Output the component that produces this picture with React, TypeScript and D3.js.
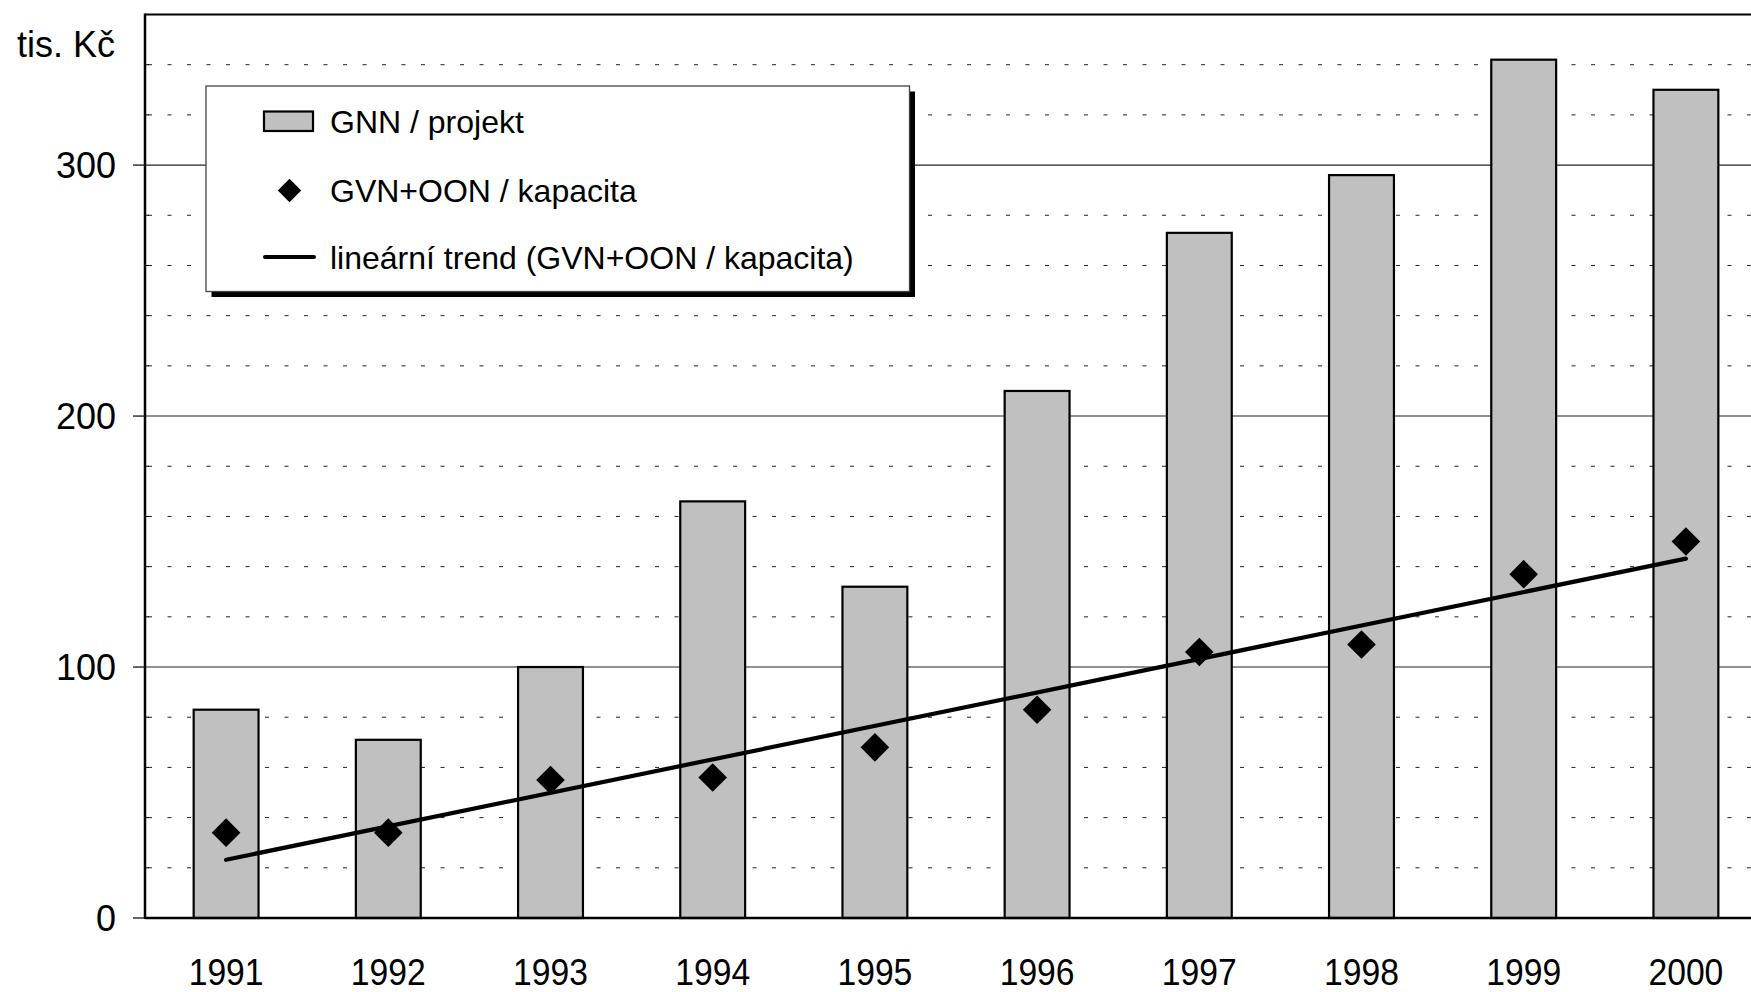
import React from "react";
import * as d3 from "d3";

const years = ["1991", "1992", "1993", "1994", "1995", "1996", "1997", "1998", "1999", "2000"];
const gnnProjekt = [83, 71, 100, 166, 132, 210, 273, 296, 342, 330];
const gvnKapacita = [34, 34, 55, 56, 68, 83, 106, 109, 137, 150];
const yMajorTicks = [0, 100, 200, 300];
const yMinorTicks = [20, 40, 60, 80, 120, 140, 160, 180, 220, 240, 260, 280, 320, 340];
const legendLabels = ["GNN / projekt", "GVN+OON / kapacita", "lineární trend (GVN+OON / kapacita)"];
const yUnitLabel = "tis. Kč";

const W = 1751;
const H = 992;
const FONT = "'Liberation Sans', Arial, Helvetica, sans-serif";

export default function App() {
  const plotLeft = 145;
  const plotTop = 14.5;
  const plotBottom = 918;
  const plotRight = 145 + 1622;

  const x = d3.scaleBand<string>().domain(years).range([plotLeft, plotRight]).paddingInner(0.6).paddingOuter(0.3);
  const y = d3.scaleLinear().domain([0, 360]).range([plotBottom, plotTop]);

  // linear trend (least squares) of the diamond series
  const n = gvnKapacita.length;
  const xs = gvnKapacita.map((_, i) => i + 1);
  const mx = d3.mean(xs) as number;
  const my = d3.mean(gvnKapacita) as number;
  const sxy = d3.sum(xs.map((xi, i) => (xi - mx) * (gvnKapacita[i] - my)));
  const sxx = d3.sum(xs.map((xi) => (xi - mx) * (xi - mx)));
  const slope = sxy / sxx;
  const intercept = my - slope * mx;
  const trendPts: [number, number][] = [0, n - 1].map((i) => [
    (x(years[i]) as number) + x.bandwidth() / 2,
    y(intercept + slope * (i + 1)),
  ]);
  const line = d3.line();

  const diamond = (cx: number, cy: number, r: number) =>
    `M${cx},${cy - r}L${cx + r},${cy}L${cx},${cy + r}L${cx - r},${cy}Z`;

  const lg = { x: 206, y: 86, w: 703.5, h: 205.5 };
  const rowY = [121.5, 190.5, 257];

  return (
    <svg
      width={W}
      height={H}
      style={{ position: "absolute", left: 0, top: 0, background: "#fff" }}
      fontFamily={FONT}
    >
      <rect x={0} y={0} width={W} height={H} fill="#fff" />
      {/* minor dashed gridlines */}
      {yMinorTicks.map((t) => (
        <line
          key={"mn" + t}
          x1={plotLeft}
          x2={W}
          y1={y(t)}
          y2={y(t)}
          stroke="#222"
          strokeWidth={1}
          strokeDasharray="4,15.5"
          strokeDashoffset={-3}
        />
      ))}
      {/* major gridlines */}
      {yMajorTicks.filter((t) => t > 0).map((t) => (
        <line key={"mj" + t} x1={plotLeft} x2={W} y1={y(t)} y2={y(t)} stroke="#222" strokeWidth={1.1} />
      ))}
      {/* minor ticks inside */}
      {yMinorTicks.map((t) => (
        <line key={"mt" + t} x1={plotLeft} x2={plotLeft + 4} y1={y(t)} y2={y(t)} stroke="#000" strokeWidth={1} />
      ))}
      {/* major ticks + labels */}
      {yMajorTicks.map((t) => (
        <g key={"yt" + t}>
          <line x1={plotLeft - 12} x2={plotLeft} y1={y(t)} y2={y(t)} stroke="#000" strokeWidth={1.2} />
          <text x={116} y={y(t)} dy="0.35em" textAnchor="end" fontSize={36} fill="#000">
            {t}
          </text>
        </g>
      ))}
      <text x={17} y={57} fontSize={36} fill="#000">
        {yUnitLabel}
      </text>

      {/* bars */}
      {years.map((yr, i) => (
        <rect
          key={"b" + yr}
          x={x(yr)}
          y={y(gnnProjekt[i])}
          width={x.bandwidth()}
          height={y(0) - y(gnnProjekt[i])}
          fill="#c0c0c0"
          stroke="#000"
          strokeWidth={2.2}
        />
      ))}

      {/* plot frame */}
      <line x1={plotLeft} x2={W} y1={plotTop} y2={plotTop} stroke="#000" strokeWidth={2.2} />
      <line x1={plotLeft} x2={plotLeft} y1={plotTop - 1} y2={plotBottom + 1} stroke="#000" strokeWidth={2.5} />
      <line x1={plotLeft} x2={W} y1={plotBottom} y2={plotBottom} stroke="#000" strokeWidth={2.5} />

      {/* trend line */}
      <path d={line(trendPts) as string} stroke="#000" strokeWidth={4.2} strokeLinecap="round" fill="none" />

      {/* diamonds */}
      {years.map((yr, i) => (
        <path
          key={"d" + yr}
          d={diamond((x(yr) as number) + x.bandwidth() / 2, y(gvnKapacita[i]), 14.3)}
          fill="#000"
        />
      ))}

      {/* x labels */}
      {years.map((yr) => (
        <text
          key={"xl" + yr}
          transform={`translate(${(x(yr) as number) + x.bandwidth() / 2},985) scale(0.91,1)`}
          textAnchor="middle"
          fontSize={37}
          fill="#000"
        >
          {yr}
        </text>
      ))}

      {/* legend */}
      <rect x={lg.x + 5.5} y={lg.y + 5.5} width={lg.w} height={lg.h} fill="#000" />
      <rect x={lg.x} y={lg.y} width={lg.w} height={lg.h} fill="#fff" stroke="#444" strokeWidth={1.3} />
      <rect x={264} y={111.5} width={49} height={19.5} fill="#c0c0c0" stroke="#000" strokeWidth={2.2} />
      <path d={diamond(289.5, rowY[1], 11.7)} fill="#000" />
      <line x1={265} x2={314} y1={rowY[2]} y2={rowY[2]} stroke="#000" strokeWidth={4} strokeLinecap="round" />
      {legendLabels.map((lbl, i) => (
        <text key={"lg" + i} x={330} y={rowY[i]} dy="0.36em" fontSize={32} fill="#000">
          {lbl}
        </text>
      ))}
    </svg>
  );
}
